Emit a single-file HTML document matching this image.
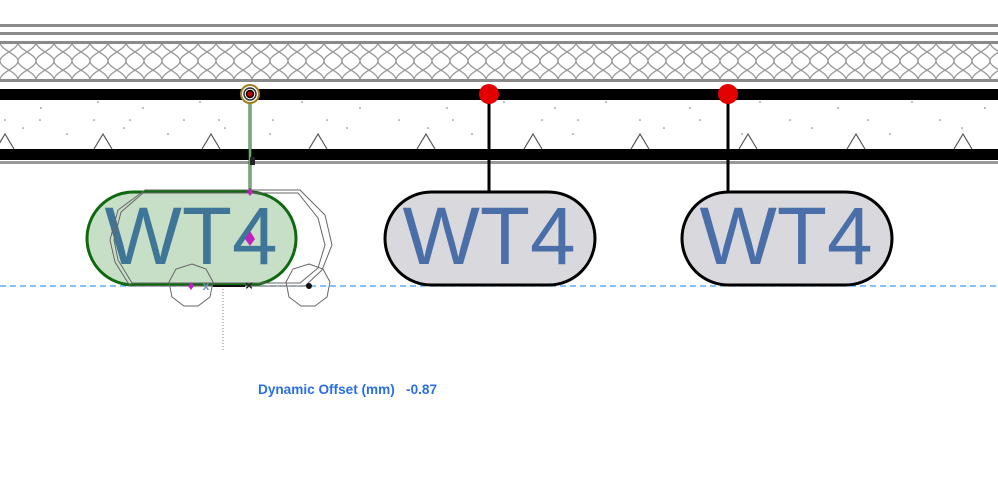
<!DOCTYPE html>
<html><head><meta charset="utf-8"><style>
html,body{margin:0;padding:0;background:#fff;}
svg{display:block}
</style></head><body>
<svg width="998" height="491" viewBox="0 0 998 491" xmlns="http://www.w3.org/2000/svg">
<defs>
<pattern id="ins" x="0" y="42" width="18" height="38" patternUnits="userSpaceOnUse">
<path d="M0,0 C0,8 18,12 18,19 C18,26 0,30 0,38" fill="none" stroke="#999" stroke-width="1.3"/>
<path d="M18,0 C18,8 0,12 0,19 C0,26 18,30 18,38" fill="none" stroke="#999" stroke-width="1.3"/>
</pattern>
</defs>
<rect x="0" y="24" width="998" height="3" fill="#8a8a8a"/>
<rect x="0" y="32" width="998" height="3" fill="#8a8a8a"/>
<rect x="0" y="41" width="998" height="3" fill="#8a8a8a"/>
<rect x="0" y="44" width="998" height="35" fill="url(#ins)"/>
<rect x="0" y="79" width="998" height="3" fill="#8a8a8a"/>
<rect x="0" y="89" width="998" height="11" fill="#000"/>
<rect x="0" y="149" width="998" height="11" fill="#000"/>
<rect x="0" y="161" width="998" height="3" fill="#999"/>
<g fill="none" stroke="#555" stroke-width="1.2">
<path d="M-4,149 L5,134 L14,149"/>
<path d="M94,149 L103,134 L112,149"/>
<path d="M202,149 L211,134 L220,149"/>
<path d="M309,149 L318,134 L327,149"/>
<path d="M417,149 L426,134 L435,149"/>
<path d="M524,149 L533,134 L542,149"/>
<path d="M631,149 L640,134 L649,149"/>
<path d="M739,149 L748,134 L757,149"/>
<path d="M847,149 L856,134 L865,149"/>
<path d="M954,149 L963,134 L972,149"/>
</g>
<g fill="#777">
<circle cx="41" cy="108" r="0.8"/><circle cx="98" cy="102" r="0.8"/><circle cx="5" cy="120" r="0.8"/><circle cx="40" cy="120" r="0.8"/><circle cx="23" cy="128" r="0.8"/><circle cx="67" cy="134" r="0.8"/><circle cx="94" cy="120" r="0.8"/><circle cx="130" cy="120" r="0.8"/><circle cx="124" cy="128" r="0.8"/><circle cx="143" cy="108" r="0.8"/><circle cx="168" cy="134" r="0.8"/><circle cx="184" cy="120" r="0.8"/><circle cx="200" cy="102" r="0.8"/><circle cx="219" cy="120" r="0.8"/><circle cx="225" cy="128" r="0.8"/><circle cx="270" cy="134" r="0.8"/><circle cx="273" cy="120" r="0.8"/><circle cx="302" cy="102" r="0.8"/><circle cx="327" cy="120" r="0.8"/><circle cx="347" cy="128" r="0.8"/><circle cx="360" cy="108" r="0.8"/><circle cx="399" cy="120" r="0.8"/><circle cx="428" cy="128" r="0.8"/><circle cx="447" cy="108" r="0.8"/><circle cx="453" cy="120" r="0.8"/><circle cx="472" cy="134" r="0.8"/><circle cx="504" cy="102" r="0.8"/><circle cx="542" cy="120" r="0.8"/><circle cx="555" cy="108" r="0.8"/><circle cx="573" cy="134" r="0.8"/><circle cx="578" cy="120" r="0.8"/><circle cx="606" cy="102" r="0.8"/><circle cx="640" cy="120" r="0.8"/><circle cx="664" cy="128" r="0.8"/><circle cx="690" cy="108" r="0.8"/><circle cx="700" cy="120" r="0.8"/><circle cx="742" cy="134" r="0.8"/><circle cx="760" cy="102" r="0.8"/><circle cx="790" cy="120" r="0.8"/><circle cx="812" cy="128" r="0.8"/><circle cx="838" cy="108" r="0.8"/><circle cx="868" cy="120" r="0.8"/><circle cx="890" cy="134" r="0.8"/><circle cx="912" cy="102" r="0.8"/><circle cx="940" cy="120" r="0.8"/><circle cx="962" cy="128" r="0.8"/><circle cx="985" cy="108" r="0.8"/>
</g>
<line x1="0" y1="286" x2="998" y2="286" stroke="#3b9cff" stroke-width="1.2" stroke-dasharray="6,4"/>
<line x1="250" y1="100" x2="250" y2="192" stroke="#1d6b1d" stroke-width="3"/>
<line x1="250" y1="100" x2="250" y2="192" stroke="#cfe6cf" stroke-width="1"/>
<rect x="250" y="157" width="5" height="8" fill="#222"/>
<rect x="87" y="192" width="209" height="93" rx="46.5" fill="#c7dec7" stroke="#0f6a0f" stroke-width="3"/>
<text x="191" y="264" font-family="Liberation Sans, sans-serif" font-size="82" fill="#3f7597" text-anchor="middle">WT4</text>
<g fill="none" stroke="#666" stroke-width="1">
<path d="M145,190 L300,190 L325,215 L332,245 L322,270 L305,286 L130,286 L115,262 L110,240 L118,210 Z"/>
<path d="M143,193 L298,193 L318,218 L325,245 L318,268 L300,283 L132,283 L118,260 L114,240 L121,212 Z"/>
<polygon points="192,264 206,269 213,282 210,297 198,306 184,306 172,297 169,282 176,269"/>
<polygon points="309,264 323,269 330,282 327,297 315,306 301,306 289,297 286,282 293,269"/>
</g>
<line x1="223" y1="286" x2="223" y2="350" stroke="#888" stroke-width="1" stroke-dasharray="1,2"/>
<line x1="213" y1="286" x2="245" y2="286" stroke="#111" stroke-width="2"/>
<text x="249" y="290" font-family="Liberation Sans, sans-serif" font-size="13" font-weight="bold" fill="#222" text-anchor="middle">×</text>
<text x="206" y="290" font-family="Liberation Sans, sans-serif" font-size="12" font-weight="bold" fill="#6a9ab8" text-anchor="middle">x</text>
<circle cx="309" cy="286" r="3" fill="#111"/>
<path d="M250,231 L255,239 L250,246 L245,239 Z" fill="#c020c0"/>
<path d="M250,188 L253,192 L250,196 L247,192 Z" fill="#c020c0"/>
<path d="M191,282 L194,286 L191,290 L188,286 Z" fill="#c020c0"/>
<circle cx="250" cy="94" r="9" fill="#fff" stroke="#a08020" stroke-width="2"/>
<circle cx="250" cy="94" r="6" fill="none" stroke="#333" stroke-width="1.5"/>
<circle cx="250" cy="94" r="3.5" fill="#b00" stroke="#000" stroke-width="1.5"/>
<line x1="489" y1="94" x2="489" y2="192" stroke="#000" stroke-width="3"/>
<rect x="385" y="192" width="210" height="93" rx="46.5" fill="#d9d8dc" stroke="#000" stroke-width="3"/>
<text x="489" y="264" font-family="Liberation Sans, sans-serif" font-size="82" fill="#4a6ea8" text-anchor="middle">WT4</text>
<circle cx="489" cy="94" r="10" fill="#e30000"/>
<line x1="728" y1="94" x2="728" y2="192" stroke="#000" stroke-width="3"/>
<rect x="682" y="192" width="210" height="93" rx="46.5" fill="#d9d8dc" stroke="#000" stroke-width="3"/>
<text x="786" y="264" font-family="Liberation Sans, sans-serif" font-size="82" fill="#4a6ea8" text-anchor="middle">WT4</text>
<circle cx="728" cy="94" r="10" fill="#e30000"/>
<text x="258" y="394" font-family="Liberation Sans, sans-serif" font-size="13.6" font-weight="bold" fill="#2a6fe8" xml:space="preserve">Dynamic Offset (mm)   -0.87</text>
</svg>
</body></html>
